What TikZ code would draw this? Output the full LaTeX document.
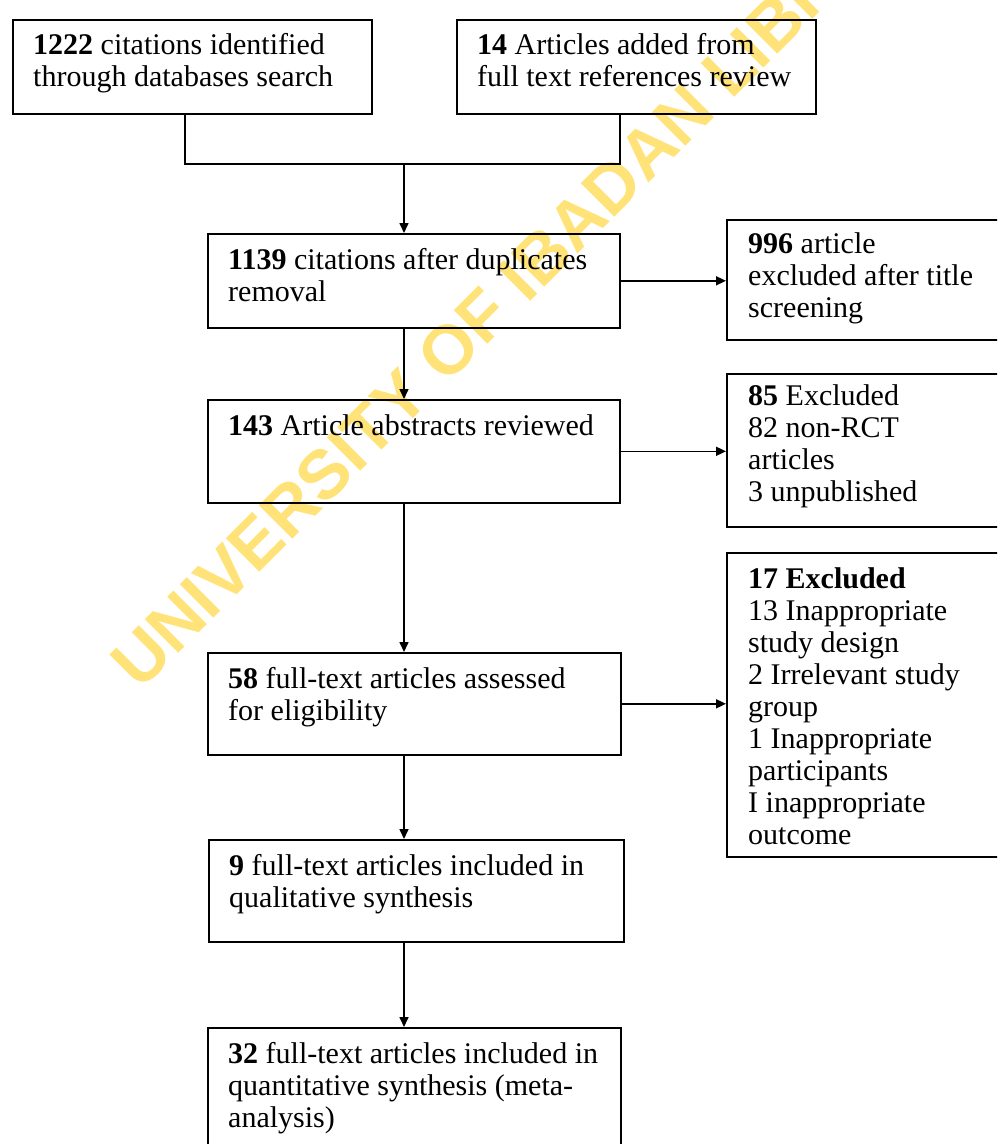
\documentclass[tikz,border=0pt]{standalone}
\usepackage{fontspec}
\setmainfont{Liberation Serif}
\newfontfamily\wmfont{Liberation Sans}
\usetikzlibrary{arrows.meta,calc}
\definecolor{wmyellow}{RGB}{255,226,120}
\tikzset{
  box/.style={draw=black, line width=1.6pt, anchor=north west, inner sep=0pt},
  txt/.style={anchor=north west, inner sep=0pt, align=left, font=\fontsize{30}{32}\selectfont},
  arr/.style={draw=black, line width=1.6pt, -{Triangle[length=10pt,width=9pt]}},
  link/.style={draw=black, line width=1.6pt},
  wm/.style={text=wmyellow, font=\wmfont\bfseries\fontsize{69}{69}\selectfont, inner sep=0pt}
}
\newcommand{\fs}{\rule{0pt}{24pt}}
\begin{document}
\begin{tikzpicture}[x=1pt,y=-1pt]
\useasboundingbox (0,0) rectangle (997,1144);
\clip (0,0) rectangle (997,1144);
% watermark
\node[wm, rotate=45, anchor=base west] (wmk) at (140,692) {UNIVERSITY OF IBADAN LIBRARY};
% spine
\coordinate (sp) at (404,0);
% boxes
\node[box, minimum width=359pt, minimum height=94pt] (A) at (12,19) {};
\node[box, minimum width=359pt, minimum height=94pt] (B) at (456,19) {};
\node[box, minimum width=412pt, minimum height=94pt] (C) at (207,233) {};
\node[box, minimum width=412pt, minimum height=103pt] (D) at (207,399) {};
\node[box, minimum width=290pt, minimum height=120pt] (E) at (726,219) {};
\node[box, minimum width=290pt, minimum height=153pt] (F) at (726,373) {};
\node[box, minimum width=290pt, minimum height=304pt] (G) at (726,552) {};
\node[box, minimum width=413pt, minimum height=102pt] (H) at (207,652) {};
\node[box, minimum width=415pt, minimum height=102pt] (I) at (208,839) {};
\node[box, minimum width=413pt, minimum height=140pt] (J) at (207,1027) {};
% texts
\node[txt] (At) at ($(A.north west)+(21,11)$) {\fs\textbf{1222} citations identified\\through databases search};
\node[txt] (Bt) at ($(B.north west)+(21,11)$) {\fs\textbf{14} Articles added from\\full text references review};
\node[txt] (Ct) at ($(C.north west)+(21,12)$) {\fs\textbf{1139} citations after duplicates\\removal};
\node[txt] (Dt) at ($(D.north west)+(21,12)$) {\fs\textbf{143} Article abstracts reviewed};
\node[txt] (Et) at ($(E.north west)+(22,10)$) {\fs\textbf{996} article\\excluded after title\\screening};
\node[txt] (Ft) at ($(F.north west)+(22,8)$) {\fs\textbf{85} Excluded\\82 non-RCT\\articles\\3 unpublished};
\node[txt] (Gt) at ($(G.north west)+(22,12)$) {\fs\textbf{17 Excluded}\\13 Inappropriate\\study design\\2 Irrelevant study\\group\\1 Inappropriate\\participants\\I inappropriate\\outcome};
\node[txt] (Ht) at ($(H.north west)+(21,12)$) {\fs\textbf{58} full-text articles assessed\\for eligibility};
\node[txt] (It) at ($(I.north west)+(21,12)$) {\fs\textbf{9} full-text articles included in\\qualitative synthesis};
\node[txt] (Jt) at ($(J.north west)+(21,12)$) {\fs\textbf{32} full-text articles included in\\quantitative synthesis (meta-\\analysis)};
% connectors
\coordinate (mA) at ([xshift=-7.5pt]A.south);
\coordinate (mB) at ([xshift=-16.5pt]B.south);
\coordinate (jn) at (404,164);
\draw[link] (mA) -- (mA |- jn) -- (mB |- jn) -- (mB);
\draw[arr] (jn) -- (C.north -| sp);
\draw[arr] (C.south -| sp) -- (D.north -| sp);
\draw[arr] (D.south -| sp) -- (H.north -| sp);
\draw[arr] (H.south -| sp) -- (I.north -| sp);
\draw[arr] (I.south -| sp) -- (J.north -| sp);
\draw[arr] (C.east) -- (C.east -| E.west);
\draw[arr] (D.east) -- (D.east -| F.west);
\draw[arr] (H.east) -- (H.east -| G.west);
\end{tikzpicture}
\end{document}
